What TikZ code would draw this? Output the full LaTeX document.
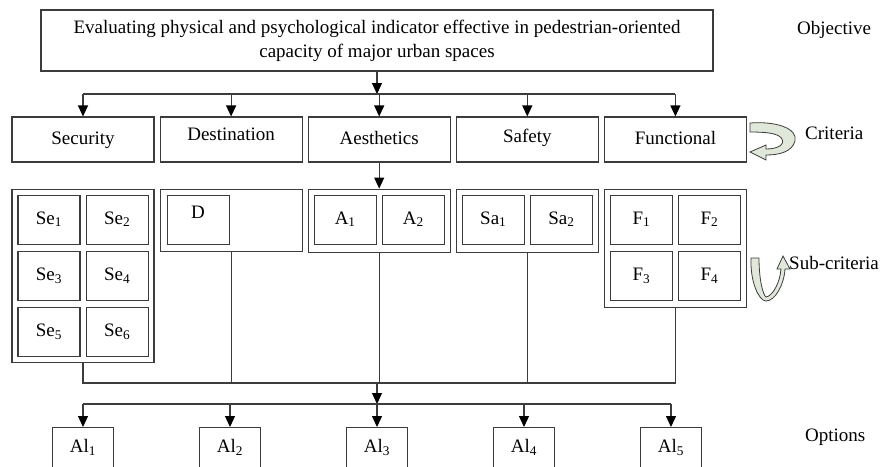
\documentclass[tikz,border=0pt]{standalone}
\usepackage{fontspec}
\setmainfont{Liberation Serif}
\usetikzlibrary{arrows.meta,positioning,calc}
\definecolor{HLine}{RGB}{60,60,60}
\definecolor{HRibbon}{RGB}{224,232,218}

\begin{document}
\begin{tikzpicture}[x=1pt, y=-1pt, every node/.style={font=\fontsize{19}{24}\selectfont}, box/.style={draw=HLine,line width=1.1pt,fill=white,inner sep=0pt,align=center}, crit/.style={box,minimum width=142pt,minimum height=45pt,text height=13pt,text depth=4pt}, grp/.style={box,minimum width=142pt}, sub/.style={box,minimum width=62pt,minimum height=49pt,text height=13pt,text depth=4pt}, alt/.style={box,minimum width=61pt,minimum height=41pt,anchor=north,text height=13pt,text depth=4pt}, lbl/.style={anchor=west,inner sep=0pt}, ln/.style={line width=1.1pt,HLine}, arr/.style={-{Triangle[length=11pt,width=10pt,color=black]},line width=1.1pt,HLine}, ribbon/.style={fill=HRibbon,draw=HLine,line width=0.8pt}]
\useasboundingbox (0,0) rectangle (883,466);
\clip (0,0) rectangle (883,466);
% objective and criteria
\node[box,minimum width=672pt,minimum height=61pt] (obj) at (377,40.5) {Evaluating physical and psychological indicator effective in pedestrian-oriented\\capacity of major urban spaces};
\node[crit] (sec) at (83,139.5) {Security};
\node[crit,right=5pt of sec] (des) {\raisebox{4pt}{Destination}};
\node[crit,right=5pt of des] (aes) {Aesthetics};
\node[crit,right=5pt of aes] (saf) {\raisebox{2pt}{Safety}};
\node[crit,right=5pt of saf] (fun) {Functional};
% sub-criteria groups
\node[grp,below=26pt of sec,minimum height=173pt] (gsec) {};
\node[grp,below=26pt of des,minimum height=62pt] (gdes) {};
\node[grp,below=26pt of aes,minimum height=63pt] (gaes) {};
\node[grp,below=26pt of saf,minimum height=63pt] (gsaf) {};
\node[grp,below=26pt of fun,minimum height=118pt] (gfun) {};
\node[sub,below right=6pt and 6pt of gsec.north west] (se1) {Se\textsubscript{1}};
\node[sub,right=5pt of se1] (se2) {Se\textsubscript{2}};
\node[sub,below=6pt of se1] (se3) {Se\textsubscript{3}};
\node[sub,right=5pt of se3] (se4) {Se\textsubscript{4}};
\node[sub,below=6pt of se3] (se5) {Se\textsubscript{5}};
\node[sub,right=5pt of se5] (se6) {Se\textsubscript{6}};
\node[sub,below right=6pt and 7pt of gdes.north west] (d) {\raisebox{6pt}{D}};
\node[sub,below right=6pt and 6pt of gaes.north west] (a1) {A\textsubscript{1}};
\node[sub,right=5pt of a1] (a2) {A\textsubscript{2}};
\node[sub,below right=6pt and 6pt of gsaf.north west] (sa1) {Sa\textsubscript{1}};
\node[sub,right=5pt of sa1] (sa2) {Sa\textsubscript{2}};
\node[sub,below right=6pt and 6pt of gfun.north west] (f1) {F\textsubscript{1}};
\node[sub,right=5pt of f1] (f2) {F\textsubscript{2}};
\node[sub,below=6pt of f1] (f3) {F\textsubscript{3}};
\node[sub,right=5pt of f3] (f4) {F\textsubscript{4}};
% options
\foreach \i/\x in {1/83,2/230,3/377,4/524,5/671} \node[alt] (al\i) at (\x,427) {Al\textsubscript{\i}};
% level labels
\node[lbl] (lobj) at (797,30) {Objective};
\node[lbl] (lcrit) at (805,133) {Criteria};
\node[lbl] (lsub) at (789,263) {Sub-criteria};
\node[lbl] (lopt) at (805,437) {Options};
% connectors
\coordinate (b1) at (377,94); \coordinate (b2) at (377,383); \coordinate (b3) at (377,404);
\draw[arr] (obj.south) -- (b1); \draw[ln] (sec.north |- b1) -- (fun.north |- b1);
\foreach \n in {sec,des,aes,saf,fun} \draw[arr] (\n.north |- b1) -- (\n.north);
\draw[arr] (aes.south) -- (gaes.north);
\draw[ln] (gsec.south) |- (gfun.south |- b2) -- (gfun.south);
\foreach \n in {gdes,gaes,gsaf} \draw[ln] (\n.south) -- (\n.south |- b2);
\draw[arr] (b2) -- (b3); \draw[ln] (al1.north |- b3) -- (al5.north |- b3);
\foreach \i in {1,...,5} \draw[arr] (al\i.north |- b3) -- (al\i.north);
% turning ribbons
\begin{scope}[xshift=3pt]
\draw[ribbon] (747,123) .. controls (772,121) and (795,128) .. (792,141) .. controls (789,152) and (776,155) .. (763,155) -- (763,160) -- (747,152) -- (763,145) -- (763,149) .. controls (774,149) and (782,145) .. (779,139) .. controls (776,133) and (762,132) .. (747,132) -- cycle;
\draw[ribbon] (748,258) .. controls (747,282) and (756,301) .. (763,301) .. controls (772,301) and (781,285) .. (782,269) -- (787,269) -- (780,256) -- (774,269) -- (778,269) .. controls (777,282) and (770,296) .. (763,297) .. controls (760,295) and (756,280) .. (756,258) -- cycle;
\end{scope}
\end{tikzpicture}
\end{document}
